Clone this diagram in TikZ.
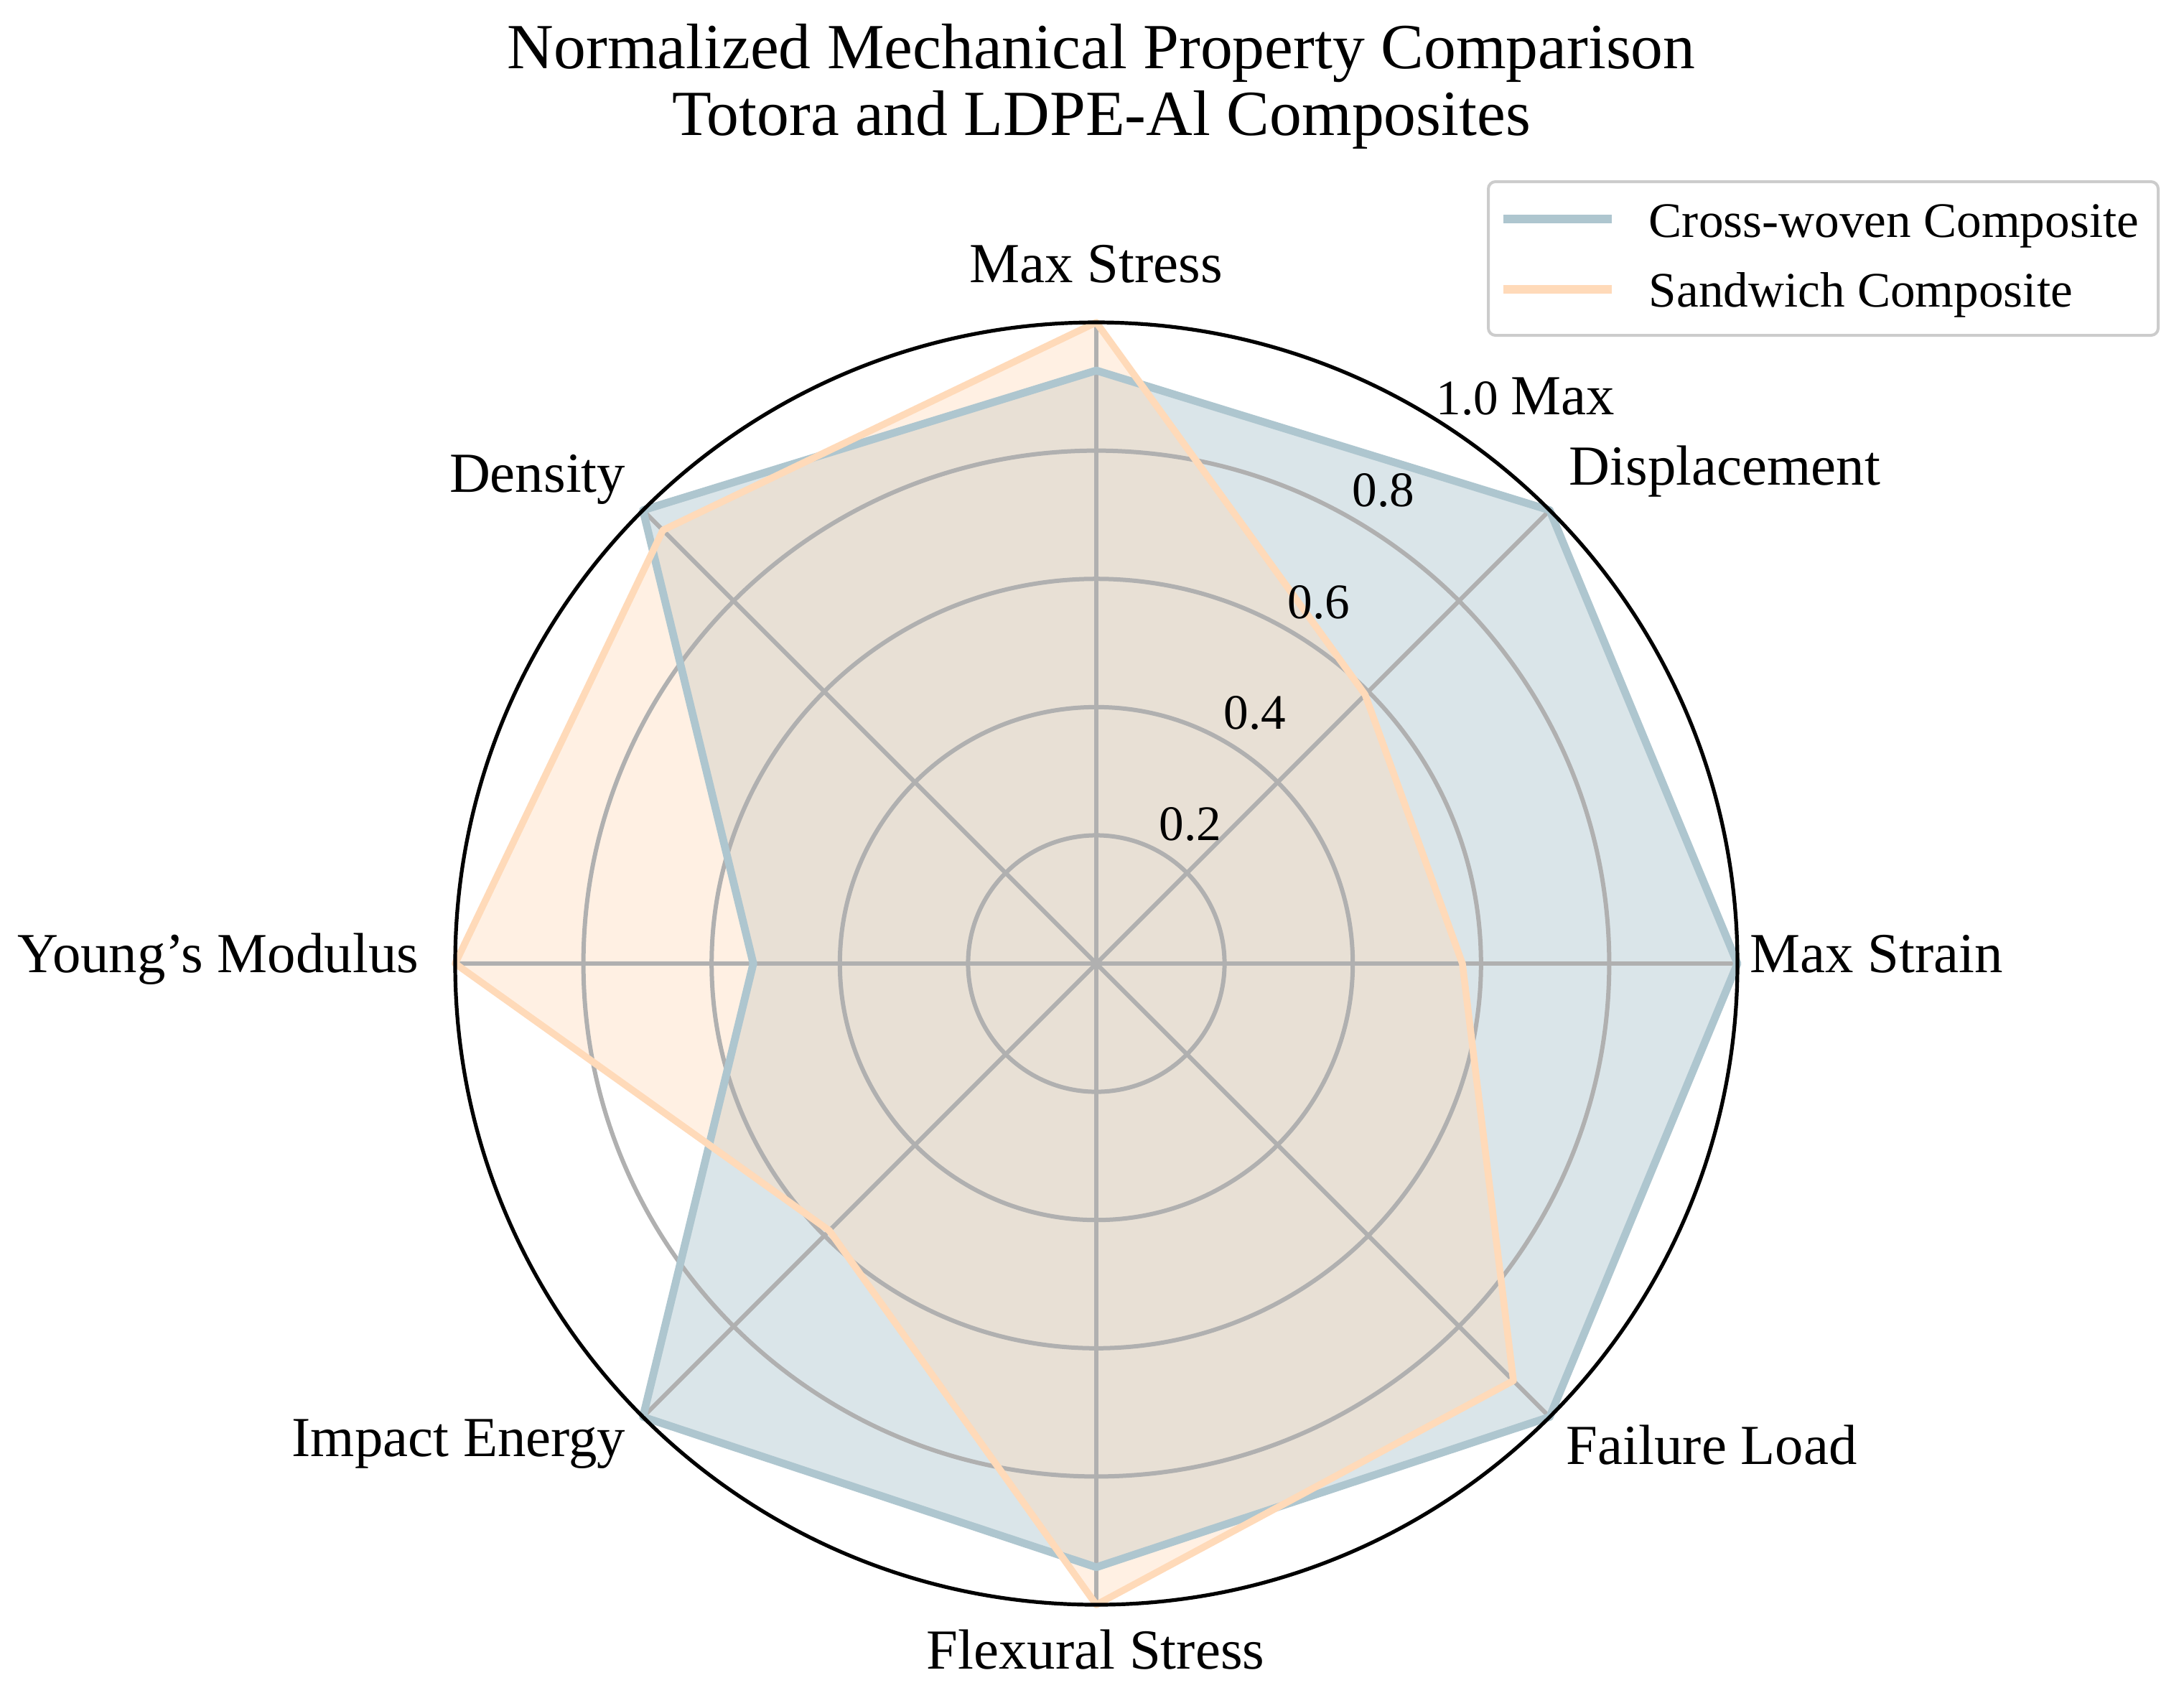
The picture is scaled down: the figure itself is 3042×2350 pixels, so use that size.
\documentclass[tikz,border=0pt]{standalone}
\usepackage{fontspec}
\setmainfont{Liberation Serif}
\definecolor{bluel}{HTML}{AEC6CF}
\definecolor{orgl}{HTML}{FFDAB9}
\definecolor{gridc}{HTML}{B0B0B0}
\definecolor{legc}{HTML}{CCCCCC}
\begin{document}
\begin{tikzpicture}[x=0.25pt,y=-0.25pt,
  gridline/.style={draw=gridc,line width=1.5pt},
  spine/.style={draw=black,line width=1.3pt},
  blueline/.style={draw=bluel,line width=2.7pt,line join=round},
  orgline/.style={draw=orgl,line width=2.4pt,line join=round},
  titletxt/.style={inner sep=0pt,font=\fontsize{22.4}{26}\selectfont},
  axlbl/.style={inner sep=0pt,font=\fontsize{19.7}{23}\selectfont},
  ticklbl/.style={inner sep=0pt,font=\fontsize{17.3}{20}\selectfont},
  legtxt/.style={inner sep=0pt,font=\fontsize{17.3}{20}\selectfont}]
\useasboundingbox (0,0) rectangle (3042,2350);
\fill[white] (0,0) rectangle (3042,2350);
\coordinate (C) at (1527,1342);
% data points
\foreach \k/\v in {0/0.925,1/1,2/1,3/1,4/0.9415,5/1,6/0.535,7/1}
  \coordinate (b\k) at ({1527+\v*893*sin(45*\k)},{1342-\v*893*cos(45*\k)});
\foreach \k/\v in {0/1,1/0.593,2/0.571,3/0.920,4/1,5/0.589,6/1,7/0.956}
  \coordinate (o\k) at ({1527+\v*893*sin(45*\k)},{1342-\v*893*cos(45*\k)});
\foreach \k in {0,...,7}
  \coordinate (g\k) at ({1527+893*sin(45*\k)},{1342-893*cos(45*\k)});
% fills
\fill[bluel,opacity=0.45] (b0)--(b1)--(b2)--(b3)--(b4)--(b5)--(b6)--(b7)--cycle;
\fill[orgl,opacity=0.4] (o0)--(o1)--(o2)--(o3)--(o4)--(o5)--(o6)--(o7)--cycle;
% grid
\foreach \r in {178.6,357.2,535.8,714.4}
  \draw[gridline] (C) circle[radius=\r];
\foreach \k in {0,...,7}
  \draw[gridline] (C) -- (g\k);
% data lines
\draw[blueline] (b0)--(b1)--(b2)--(b3)--(b4)--(b5)--(b6)--(b7)--cycle;
\draw[orgline] (o0)--(o1)--(o2)--(o3)--(o4)--(o5)--(o6)--(o7)--cycle;
% outer circle
\draw[spine] (C) circle[radius=893];
% tick labels
\node[ticklbl,anchor=base] (r2) at (1658,1170) {0.2};
\node[ticklbl,anchor=base] (r4) at (1748,1015) {0.4};
\node[ticklbl,anchor=base] (r6) at (1837,861) {0.6};
\node[ticklbl,anchor=base] (r8) at (1927,705) {0.8};
\node[ticklbl,anchor=base west] (r10) at (2000,577) {1.0};
% axis labels
\node[axlbl,anchor=base] (lMS) at (1527,393) {Max Stress};
\node[axlbl,anchor=base west] (lMD1) at (2104,577) {Max};
\node[axlbl,anchor=base west] (lMD2) at (2185,675) {Displacement};
\node[axlbl,anchor=base west] (lMSt) at (2437,1354) {Max Strain};
\node[axlbl,anchor=base west] (lFL) at (2181,2039) {Failure Load};
\node[axlbl,anchor=base] (lFS) at (1526,2324) {Flexural Stress};
\node[axlbl,anchor=base east] (lIE) at (872,2028) {Impact Energy};
\node[axlbl,anchor=base east] (lYM) at (584,1354) {Young’s Modulus};
\node[axlbl,anchor=base east] (lD) at (872,685) {Density};
% title
\node[titletxt,anchor=base] (t1) at (1534,95) {Normalized Mechanical Property Comparison};
\node[titletxt,anchor=base] (t2) at (1534,188) {Totora and LDPE-Al Composites};
% legend
\draw[legc,line width=1pt,rounded corners=2.5pt,fill=white] (2073,253) rectangle (3006,467);
\coordinate (lb1) at (2094,305); \coordinate (lb2) at (2245,305);
\coordinate (lo1) at (2094,403); \coordinate (lo2) at (2245,403);
\draw[bluel,line width=2.8pt] (lb1) -- (lb2);
\draw[orgl,line width=2.8pt] (lo1) -- (lo2);
\node[legtxt,anchor=base west] (leg1) at (2296,330) {Cross-woven Composite};
\node[legtxt,anchor=base west] (leg2) at (2296,427) {Sandwich Composite};
\end{tikzpicture}
\end{document}
